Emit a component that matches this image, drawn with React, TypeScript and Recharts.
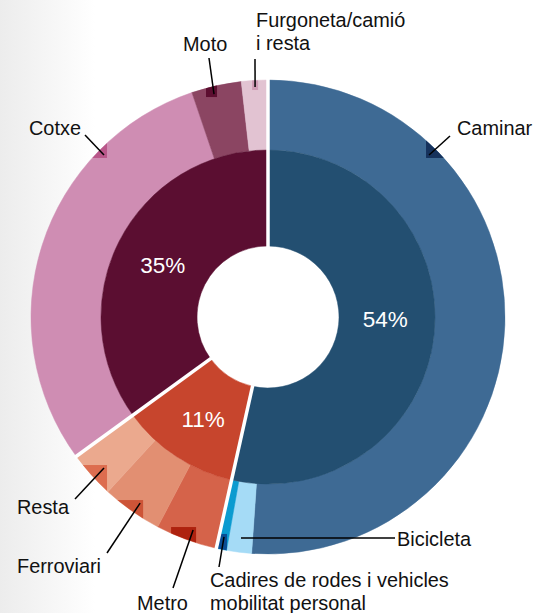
import React from 'react';
import { PieChart, Pie, Cell } from 'recharts';

// ---------- data ----------
const groupNames = ['Mobilitat activa', 'Transport públic', 'Vehicle privat'];
const groupValues = [53.5, 11.5, 35];
const groupLabels = ['54%', '11%', '35%'];

const modeNames = [
  'Caminar',
  'Bicicleta',
  'Cadires de rodes i vehicles mobilitat personal',
  'Metro',
  'Ferroviari',
  'Resta',
  'Cotxe',
  'Moto',
  'Furgoneta/camió i resta',
];
const modeValues = [51.1, 1.7, 0.7, 4.2, 4.1, 3.2, 29.8, 3.4, 1.8];
const modeLabelLines = [
  ['Caminar'],
  ['Bicicleta'],
  ['Cadires de rodes i vehicles', 'mobilitat personal'],
  ['Metro'],
  ['Ferroviari'],
  ['Resta'],
  ['Cotxe'],
  ['Moto'],
  ['Furgoneta/camió', 'i resta'],
];

// ---------- styles ----------
const groupColors = ['#234f71', '#c7452d', '#5b0e31'];
const modeColors = ['#3e6a94', '#a5dbf6', '#0b9bd0', '#d5634a', '#e28f72', '#eba98e', '#cf8db3', '#8b4562', '#e2c3d2'];
const markerColors = ['#16325c', '#a5dbf6', '#0a4d94', '#ae220f', '#cd5437', '#dd6d4f', '#b9578a', '#5c0e30', '#cf9cb5'];

const W = 535;
const H = 613;
const CX = 268;
const CY = 317;
const HOLE_R = 71;
const MID_R = 167;
const OUTER_R = 237;
const FONT = '"Liberation Sans", Arial, Helvetica, sans-serif';
const LABEL_SIZE = 19.9;
const LINE_GAP = 22.5;

// label layout: marker corner at angle a (deg clockwise from top), radius r;
// marker extends w x h in direction (sx, sy); leader line to (lx, ly); text at (tx, ty)
const modeLayout = [
  { a: 44.82, r: 224.2, w: 20, h: 20, sx: 1, sy: -1, lx: 450, ly: 136, tx: 457, ty: 135 },
  { a: 186.97, r: 222.6, w: 0, h: 0, sx: 0, sy: 0, lx: 395, ly: 538, tx: 397, ty: 546 },
  { a: 190.7, r: 220.8, w: 10, h: 20, sx: -1, sy: 1, lx: 219, ly: 567, tx: 210, ty: 587 },
  { a: 198.9, r: 222.0, w: 25, h: 20, sx: -1, sy: 1, lx: 173, ly: 588, tx: 137, ty: 610 },
  { a: 214.3, r: 221.6, w: 26, h: 20, sx: -1, sy: 1, lx: 107, ly: 553, tx: 17, ty: 573 },
  { a: 227.4, r: 218.7, w: 25, h: 27, sx: -1, sy: 1, lx: 75, ly: 499, tx: 17, ty: 514 },
  { a: 314.65, r: 226.3, w: 20, h: 20, sx: -1, sy: -1, lx: 85, ly: 135, tx: 29, ty: 135 },
  { a: 346.95, r: 225.8, w: 11, h: 12, sx: -1, sy: -1, lx: 209, ly: 58, tx: 183, ty: 51 },
  { a: 357.5, r: 227.2, w: 6, h: 12, sx: -1, sy: -1, lx: 255, ly: 59, tx: 256, ty: 27 },
];
const groupLabelRadius = 118;
const groupLabelDy = [-10, 4, 2];

const RAD = Math.PI / 180;
// Recharts angle (math convention, degrees)
const polar = (cx: number, cy: number, r: number, deg: number) => [cx + r * Math.cos(deg * RAD), cy - r * Math.sin(deg * RAD)];
// clockwise-from-top angle
const polarCw = (cx: number, cy: number, r: number, a: number) => [cx + r * Math.sin(a * RAD), cy - r * Math.cos(a * RAD)];

const sectorPath = (cx: number, cy: number, r0: number, r1: number, s: number, e: number) => {
  const large = Math.abs(e - s) > 180 ? 1 : 0;
  const sweep = e < s ? 1 : 0;
  const [x0, y0] = polar(cx, cy, r1, s);
  const [x1, y1] = polar(cx, cy, r1, e);
  const [x2, y2] = polar(cx, cy, r0, e);
  const [x3, y3] = polar(cx, cy, r0, s);
  return `M${x0},${y0} A${r1},${r1} 0 ${large} ${sweep} ${x1},${y1} L${x2},${y2} A${r0},${r0} 0 ${large} ${1 - sweep} ${x3},${y3} Z`;
};

const renderModeLabel = (props: any) => {
  const { cx, cy, innerRadius, outerRadius, startAngle, endAngle, index } = props;
  const L = modeLayout[index];
  const [px, py] = polarCw(cx, cy, L.r, L.a);
  const clipId = `mode-clip-${index}`;
  const x1 = px + 3 * L.sx;
  const y1 = py + 3 * L.sy;
  const lines = modeLabelLines[index];
  return (
    <g key={`ml-${index}`}>
      {L.w > 0 && (
        <>
          <defs>
            <clipPath id={clipId}>
              <path d={sectorPath(cx, cy, innerRadius, outerRadius, startAngle, endAngle)} />
            </clipPath>
          </defs>
          <rect
            x={L.sx > 0 ? px : px - L.w}
            y={L.sy > 0 ? py : py - L.h}
            width={L.w}
            height={L.h}
            fill={markerColors[index]}
            clipPath={`url(#${clipId})`}
          />
        </>
      )}
      <line x1={x1} y1={y1} x2={L.lx} y2={L.ly} stroke="#000" strokeWidth={1.5} />
      <text x={L.tx} y={L.ty} fill="#111" fontSize={LABEL_SIZE} fontFamily={FONT} textAnchor="start">
        {lines.map((t, i) => (
          <tspan key={i} x={L.tx} dy={i === 0 ? 0 : LINE_GAP}>
            {t}
          </tspan>
        ))}
      </text>
    </g>
  );
};

const renderGroupLabel = (props: any) => {
  const { cx, cy, innerRadius, midAngle, startAngle, index } = props;
  const [sx1, sy1] = polar(cx, cy, innerRadius - 1, startAngle);
  const [sx2, sy2] = polar(cx, cy, OUTER_R + 2, startAngle);
  const [tx, ty] = polar(cx, cy, groupLabelRadius, midAngle);
  return (
    <g key={`gl-${index}`}>
      <line x1={sx1} y1={sy1} x2={sx2} y2={sy2} stroke="#fff" strokeWidth={3.5} />
      <text
        x={tx}
        y={ty + groupLabelDy[index]}
        textAnchor="middle"
        dominantBaseline="central"
        fill="#fff"
        fontSize={22.5}
        fontFamily={FONT}
      >
        {groupLabels[index]}
      </text>
    </g>
  );
};

const groupData = groupNames.map((name, i) => ({ name, value: groupValues[i] }));
const modeData = modeNames.map((name, i) => ({ name, value: modeValues[i] }));

export default function App() {
  return (
    <div
      style={{
        position: 'absolute',
        left: 0,
        top: 0,
        width: W,
        height: H,
        background: 'linear-gradient(to right, #ececec 0px, #f4f4f4 40px, #ffffff 95px)',
      }}
    >
      <PieChart width={W} height={H} margin={{ top: 0, right: 0, bottom: 0, left: 0 }}>
        <Pie
          data={modeData}
          dataKey="value"
          nameKey="name"
          cx={CX}
          cy={CY}
          innerRadius={MID_R}
          outerRadius={OUTER_R}
          startAngle={90}
          endAngle={-270}
          isAnimationActive={false}
          label={renderModeLabel}
          labelLine={false}
        >
          {modeData.map((d, i) => (
            <Cell key={d.name} fill={modeColors[i]} stroke={modeColors[i]} strokeWidth={0.5} />
          ))}
        </Pie>
        <Pie
          data={groupData}
          dataKey="value"
          nameKey="name"
          cx={CX}
          cy={CY}
          innerRadius={HOLE_R}
          outerRadius={MID_R}
          startAngle={90}
          endAngle={-270}
          isAnimationActive={false}
          label={renderGroupLabel}
          labelLine={false}
        >
          {groupData.map((d, i) => (
            <Cell key={d.name} fill={groupColors[i]} stroke={groupColors[i]} strokeWidth={0.5} />
          ))}
        </Pie>
      </PieChart>
    </div>
  );
}
